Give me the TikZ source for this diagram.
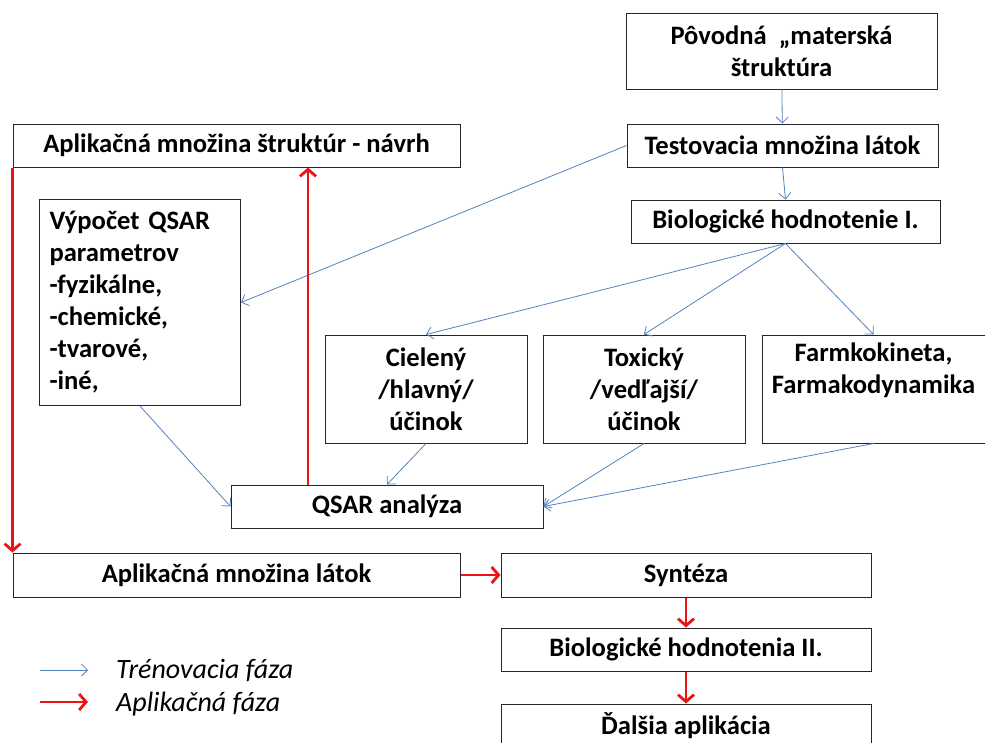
\documentclass[tikz,border=0pt]{standalone}
\usepackage{fontspec}
\usetikzlibrary{arrows.meta}
\setmainfont{Carlito}
\definecolor{trnblue}{RGB}{84,130,190}
\definecolor{aplred}{RGB}{235,20,20}
\begin{document}
\begin{tikzpicture}[x=1pt, y=-1pt,
  box/.style={draw=black!85, line width=1pt, inner sep=0pt, align=center,
    font=\bfseries\fontsize{26.6}{32}\selectfont},
  legend/.style={inner sep=0pt, font=\itshape\fontsize{28}{30}\selectfont},
  trn/.style={-{Straight Barb[length=6pt, width=12pt]}, draw=trnblue, line width=0.8pt},
  apl/.style={-{Straight Barb[length=7pt, width=16pt]}, draw=aplred, line width=2.8pt}]
\useasboundingbox (0,0) rectangle (985,742);
\node[box, minimum width=311, minimum height=76] (povodna) at (781.5,51) {Pôvodná~ „materská\\štruktúra};
\node[box, minimum width=311, minimum height=43] (testov) at (782.5,145.5) {Testovacia množina látok};
\node[box, minimum width=309, minimum height=43] (biol1) at (785.5,221.5) {Biologické hodnotenie I.};
\node[box, minimum width=447, minimum height=43] (navrh) at (236.5,145.5) {Aplikačná množina štruktúr - návrh};
\node[box, anchor=north west, align=left, text width=181, inner xsep=10, minimum height=206] (vypocet) at (39,199)
  {Výpočet QSAR\\parametrov\\-fyzikálne,\\-chemické,\\-tvarové,\\-iné,};
\node[box, minimum width=202, minimum height=108] (cieleny) at (426,389) {Cielený\\/hlavný/\\účinok};
\node[box, minimum width=202, minimum height=108] (toxicky) at (644,389) {Toxický\\/vedľajší/\\účinok};
\node[box, minimum width=223, minimum height=108] (farm) at (873.5,389) {Farmkokineta,\\Farmakodynamika\\\strut};
\node[box, minimum width=312, minimum height=43] (qsar) at (387,506.5) {QSAR analýza};
\node[box, minimum width=447, minimum height=44] (aplat) at (236.5,575) {Aplikačná množina látok};
\node[box, minimum width=370, minimum height=44] (synteza) at (686,575) {Syntéza};
\node[box, minimum width=370, minimum height=43] (biol2) at (686,649.5) {Biologické hodnotenia II.};
\node[box, minimum width=370, minimum height=43] (dalsia) at (686,725.5) {Ďalšia aplikácia};
\node[legend, anchor=west] (trnleg) at (116,670) {Trénovacia fáza};
\node[legend, anchor=west] (aplleg) at (116,704) {Aplikačná fáza};
\draw[trn] (povodna) -- (testov);
\draw[trn] (testov.south) -- (biol1.north);
\draw[trn] (testov.west) -- (vypocet.east);
\draw[trn] (biol1.south) -- (cieleny.north);
\draw[trn] (biol1.south) -- (toxicky.north);
\draw[trn] (biol1.south) -- (farm.north);
\draw[trn] (vypocet.south) -- (qsar.west);
\draw[trn] (cieleny.south) -- (qsar.north);
\draw[trn] (toxicky.south) -- (qsar.east);
\draw[trn] (farm.south) -- (qsar.east);
\draw[apl] (navrh.south west) -- (aplat.north west);
\draw[apl] ([xshift=-79]qsar.north) -- ([xshift=-79]qsar.north |- navrh.south);
\draw[apl] (aplat) -- (synteza);
\draw[apl] (synteza) -- (biol2);
\draw[apl] (biol2) -- (dalsia);
\draw[trn] ([xshift=-76]trnleg.west) -- ([xshift=-28]trnleg.west);
\draw[apl] ([xshift=-76,yshift=2]aplleg.west) -- ([xshift=-28,yshift=2]aplleg.west);
\end{tikzpicture}
\end{document}
